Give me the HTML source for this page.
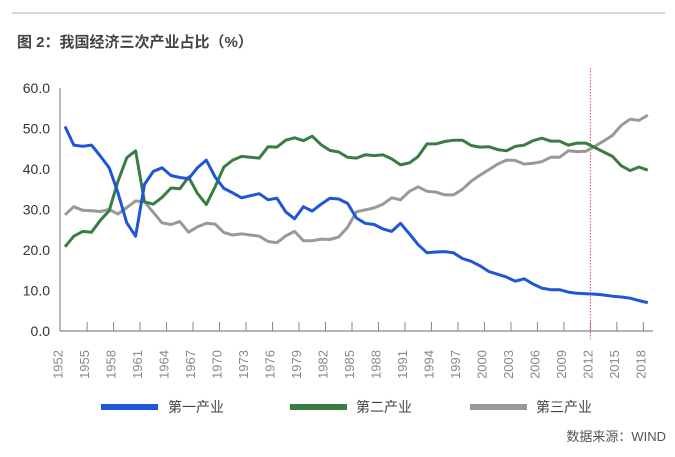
<!DOCTYPE html>
<html><head><meta charset="utf-8"><style>
body{margin:0;background:#fff;}
svg{display:block;font-family:"Liberation Sans","Noto Sans CJK SC",sans-serif;}
</style></head><body>
<svg id="chart" width="675" height="457" viewBox="0 0 675 457">
<line x1="12" y1="13" x2="665" y2="13" stroke="#c8c8c8" stroke-width="1.5"/>
<text x="17" y="47" font-size="15" font-weight="bold" fill="#444">图 2：我国经济三次产业占比（%）</text>
<g id="plot"></g>
<g>
<g><rect x="101" y="404" width="57" height="6" fill="#1f56d6"/><text x="168" y="412" font-size="14" fill="#444">第一产业</text></g>
<g><rect x="290" y="404" width="57" height="6" fill="#3a7d44"/><text x="356" y="412" font-size="14" fill="#444">第二产业</text></g>
<g><rect x="470" y="404" width="57" height="6" fill="#999"/><text x="536" y="412" font-size="14" fill="#444">第三产业</text></g>
</g>
<text x="666" y="441" font-size="13" fill="#555" text-anchor="end">数据来源：WIND</text>
</svg>
<script>
const startYear = 1952;
const primary = [50.5,45.9,45.6,45.9,43.2,40.3,34.1,26.7,23.4,36.2,39.4,40.3,38.4,37.9,37.6,40.3,42.2,38.0,35.2,34.1,32.9,33.4,33.9,32.4,32.8,29.4,27.7,30.7,29.6,31.3,32.8,32.6,31.5,27.9,26.6,26.3,25.2,24.6,26.6,24.0,21.3,19.3,19.5,19.6,19.3,17.9,17.2,16.1,14.7,14.0,13.3,12.3,12.9,11.6,10.6,10.2,10.2,9.6,9.3,9.2,9.1,8.9,8.6,8.4,8.1,7.5,7.0];
const secondary = [20.8,23.4,24.6,24.4,27.3,29.7,37.0,42.8,44.5,31.9,31.3,33.0,35.3,35.1,38.0,34.0,31.2,35.6,40.5,42.2,43.1,42.9,42.7,45.5,45.4,47.1,47.7,47.0,48.1,46.0,44.6,44.2,42.9,42.7,43.5,43.3,43.5,42.5,41.0,41.5,43.1,46.2,46.2,46.8,47.1,47.1,45.8,45.4,45.5,44.8,44.5,45.6,45.9,47.0,47.6,46.9,46.9,45.9,46.4,46.4,45.3,44.2,43.1,40.8,39.6,40.5,39.7];
const tertiary = [28.7,30.7,29.8,29.7,29.5,30.0,28.9,30.5,32.1,31.9,29.3,26.7,26.3,27.0,24.4,25.7,26.6,26.4,24.3,23.7,24.0,23.7,23.4,22.1,21.8,23.5,24.6,22.3,22.3,22.7,22.6,23.2,25.6,29.4,29.9,30.4,31.3,32.9,32.4,34.5,35.6,34.5,34.3,33.6,33.6,35.0,37.0,38.5,39.8,41.2,42.2,42.1,41.2,41.4,41.8,42.9,42.9,44.5,44.3,44.4,45.6,46.9,48.3,50.8,52.3,52.0,53.3];
const yTicks = [0,10,20,30,40,50,60];
const xTickYears = [1952,1955,1958,1961,1964,1967,1970,1973,1976,1979,1982,1985,1988,1991,1994,1997,2000,2003,2006,2009,2012,2015,2018];
const markerYear = 2012;

const NS = "http://www.w3.org/2000/svg";
const plot = document.getElementById('plot');
const x0 = 65, step = 8.83, yBase = 331, yTop = 88, yMax = 60;
function xs(i){ return x0 + i*step; }
function xYear(yr){ return xs(yr-startYear); }
function ys(v){ return yBase - v/yMax*(yBase-yTop); }
function mk(tag, attrs){ const e=document.createElementNS(NS,tag); for(const k in attrs) e.setAttribute(k,attrs[k]); plot.appendChild(e); return e; }

yTicks.forEach(v=>{
  const t = mk('text',{x:50,y:ys(v)+5,'font-size':14,fill:'#333','text-anchor':'end'});
  t.textContent = v.toFixed(1);
  
  
});
const ya = mk('line',{x1:60,y1:yTop,x2:60,y2:yBase,stroke:'#888','stroke-width':1.2});


const xa = mk('line',{x1:60,y1:yBase,x2:xYear(2018)+5,y2:yBase,stroke:'#888','stroke-width':1.2});


xTickYears.forEach(yr=>{
  const tx = xYear(yr)-4.4;
  if (yr!==startYear){
    const tk = mk('line',{x1:tx,y1:yBase-9,x2:tx,y2:yBase,stroke:'#888','stroke-width':1});
    
    
  }
  const lx = tx+2;
  const t = mk('text',{x:lx,y:350,'font-size':13,fill:'#888','text-anchor':'end',transform:'rotate(-90 '+lx+' 350)'});
  t.textContent = yr;
  
  
});
const mx = xYear(markerYear)-4.4;
const ml = mk('line',{x1:mx,y1:68,x2:mx,y2:yBase+8,stroke:'#d9534f','stroke-width':1,'stroke-dasharray':'1.5,1.5'});



function series(arr, color, name){
  const d = arr.map((v,i)=>(i?'L':'M')+xs(i).toFixed(1)+','+ys(v).toFixed(1)).join(' ');
  const p = mk('path',{d:d,fill:'none',stroke:color,'stroke-width':3,'stroke-linejoin':'round'});
  
  
}
series(tertiary,'#999','tertiary-line');
series(secondary,'#3a7d44','secondary-line');
series(primary,'#1f56d6','primary-line');
</script>
</body></html>
